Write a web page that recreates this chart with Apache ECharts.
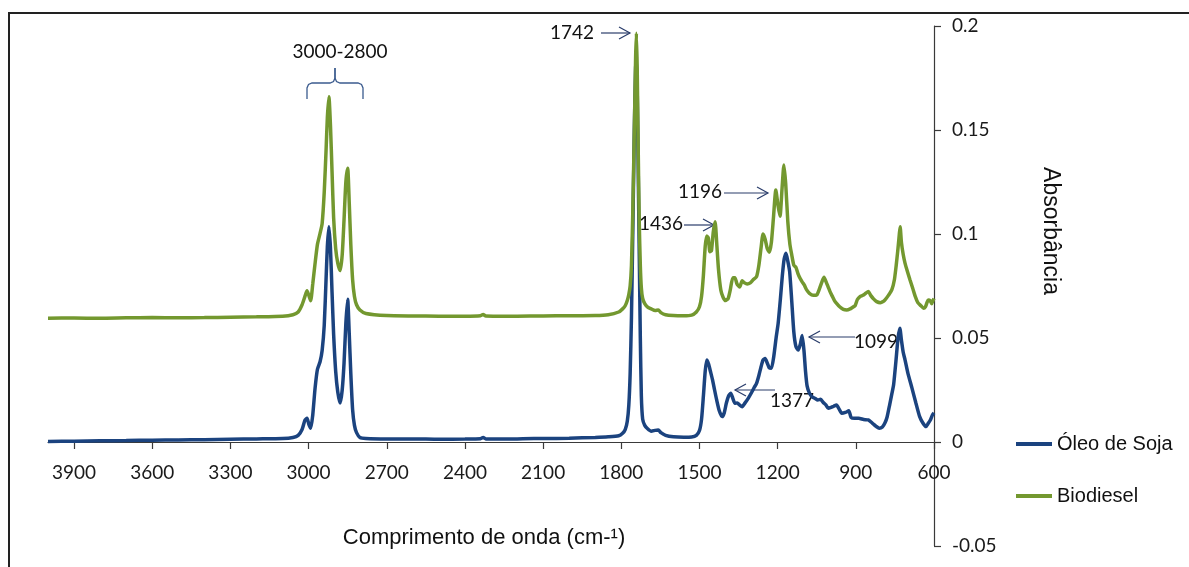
<!DOCTYPE html>
<html>
<head>
<meta charset="utf-8">
<script src="https://cdn.jsdelivr.net/npm/echarts@6/dist/echarts.min.js"></script>
<style>
  html, body { margin: 0; padding: 0; background: #ffffff; }
  #chart { width: 1189px; height: 567px; }
</style>
</head>
<body>
<div id="chart"></div>
<script>
// FTIR spectra: soybean oil vs. biodiesel (wavenumber in cm-1, absorbance)
const xTickValues = [3900, 3600, 3300, 3000, 2700, 2400, 2100, 1800, 1500, 1200, 900, 600];

const oilWavenumber = [
  4000, 3900, 3800, 3700, 3600, 3500, 3400, 3300, 3200, 3100, 3060, 3040, 3025, 3014, 3006, 2999, 2992, 2984, 2975, 2966,
  2956, 2948, 2940, 2933, 2928, 2922, 2916, 2910, 2904, 2896, 2888, 2879, 2871, 2864, 2857, 2850, 2844, 2838, 2831, 2824,
  2816, 2803, 2780, 2700, 2600, 2500, 2400, 2340, 2330, 2320, 2200, 2100, 2000, 1900, 1850, 1810, 1795, 1785, 1777, 1771,
  1766, 1761, 1756, 1750, 1745, 1742, 1739, 1735, 1731, 1727, 1723, 1718, 1710, 1700, 1685, 1670, 1658, 1648, 1630, 1600,
  1560, 1530, 1512, 1500, 1492, 1485, 1478, 1472, 1465, 1458, 1450, 1442, 1434, 1424, 1413, 1405, 1397, 1388, 1380, 1372,
  1364, 1355, 1346, 1336, 1325, 1313, 1300, 1290, 1281, 1272, 1264, 1256, 1248, 1240, 1232, 1224, 1215, 1206, 1198, 1190,
  1182, 1175, 1168, 1161, 1154, 1146, 1138, 1130, 1121, 1113, 1106, 1099, 1093, 1087, 1078, 1068, 1057, 1046, 1035, 1025,
  1015, 1006, 995, 985, 974, 964, 954, 940, 927, 918, 905, 889, 870, 852, 836, 822, 810, 798, 788, 780,
  770, 762, 755, 746, 738, 731, 725, 718, 711, 700, 686, 670, 655, 642, 631, 622, 614, 606, 600
];
const oilAbsorbance = [
  0.0003, 0.0004, 0.0006, 0.0007, 0.0009, 0.0010, 0.0011, 0.0013, 0.0015, 0.0017, 0.0022, 0.0032, 0.0060, 0.0105, 0.0114, 0.0085, 0.0066, 0.0130, 0.0260, 0.0350,
  0.0386, 0.0440, 0.0560, 0.0780, 0.0940, 0.1035, 0.0930, 0.0720, 0.0520, 0.0340, 0.0240, 0.0187, 0.0250, 0.0378, 0.0570, 0.0686, 0.0520, 0.0330, 0.0154, 0.0080,
  0.0045, 0.0022, 0.0017, 0.0015, 0.0015, 0.0013, 0.0014, 0.0016, 0.0022, 0.0015, 0.0015, 0.0017, 0.0018, 0.0022, 0.0025, 0.0030, 0.0042, 0.0060, 0.0100, 0.0180,
  0.0330, 0.0600, 0.1000, 0.1500, 0.1800, 0.1850, 0.1700, 0.1300, 0.0900, 0.0500, 0.0220, 0.0110, 0.0080, 0.0065, 0.0052, 0.0056, 0.0058, 0.0045, 0.0032, 0.0025,
  0.0023, 0.0024, 0.0032, 0.0055, 0.0110, 0.0220, 0.0340, 0.0394, 0.0375, 0.0340, 0.0300, 0.0250, 0.0202, 0.0150, 0.0122, 0.0140, 0.0186, 0.0222, 0.0234, 0.0210,
  0.0186, 0.0188, 0.0178, 0.0170, 0.0188, 0.0210, 0.0238, 0.0262, 0.0282, 0.0320, 0.0360, 0.0394, 0.0402, 0.0380, 0.0356, 0.0354, 0.0410, 0.0500, 0.0571, 0.0680,
  0.0800, 0.0880, 0.0907, 0.0870, 0.0820, 0.0680, 0.0530, 0.0460, 0.0442, 0.0470, 0.0512, 0.0440, 0.0340, 0.0270, 0.0235, 0.0218, 0.0210, 0.0202, 0.0205, 0.0190,
  0.0178, 0.0162, 0.0166, 0.0172, 0.0178, 0.0158, 0.0138, 0.0142, 0.0150, 0.0118, 0.0114, 0.0114, 0.0108, 0.0106, 0.0090, 0.0075, 0.0066, 0.0072, 0.0092, 0.0120,
  0.0180, 0.0230, 0.0275, 0.0390, 0.0500, 0.0547, 0.0490, 0.0430, 0.0394, 0.0330, 0.0266, 0.0190, 0.0122, 0.0090, 0.0074, 0.0090, 0.0106, 0.0130, 0.0140
];

const bioWavenumber = [
  4000, 3900, 3800, 3700, 3600, 3500, 3400, 3300, 3200, 3100, 3060, 3040, 3025, 3014, 3006, 2999, 2992, 2984, 2975, 2966,
  2956, 2948, 2940, 2933, 2928, 2922, 2916, 2910, 2904, 2896, 2888, 2879, 2871, 2864, 2857, 2850, 2844, 2838, 2831, 2824,
  2816, 2803, 2780, 2700, 2600, 2500, 2400, 2340, 2330, 2320, 2200, 2100, 2000, 1900, 1850, 1810, 1795, 1785, 1777, 1771,
  1766, 1761, 1756, 1750, 1745, 1742, 1739, 1735, 1731, 1727, 1723, 1718, 1710, 1700, 1685, 1670, 1658, 1648, 1630, 1600,
  1560, 1530, 1512, 1500, 1492, 1485, 1478, 1472, 1466, 1460, 1454, 1447, 1440, 1434, 1427, 1418, 1409, 1400, 1390, 1382,
  1372, 1364, 1356, 1346, 1336, 1327, 1317, 1305, 1294, 1281, 1272, 1264, 1256, 1248, 1240, 1232, 1224, 1216, 1207, 1199,
  1191, 1183, 1176, 1169, 1161, 1153, 1146, 1138, 1130, 1122, 1114, 1106, 1098, 1088, 1078, 1064, 1050, 1040, 1030, 1022,
  1014, 1006, 999, 990, 982, 974, 962, 948, 935, 922, 912, 903, 894, 884, 873, 862, 852, 843, 832, 820,
  806, 795, 788, 775, 762, 752, 745, 739, 733, 730, 725, 718, 711, 702, 692, 682, 672, 662, 650, 640,
  633, 627, 622, 615, 609, 604, 600
];
const bioAbsorbance = [
  0.0595, 0.0596, 0.0595, 0.0597, 0.0598, 0.0597, 0.0598, 0.0600, 0.0602, 0.0605, 0.0612, 0.0625, 0.0660, 0.0700, 0.0727, 0.0705, 0.0679, 0.0760, 0.0860, 0.0950,
  0.1003, 0.1050, 0.1200, 0.1400, 0.1560, 0.1660, 0.1520, 0.1300, 0.1080, 0.0930, 0.0860, 0.0824, 0.0900, 0.1067, 0.1250, 0.1316, 0.1150, 0.0950, 0.0779, 0.0700,
  0.0660, 0.0635, 0.0618, 0.0608, 0.0606, 0.0605, 0.0605, 0.0607, 0.0613, 0.0606, 0.0605, 0.0606, 0.0607, 0.0608, 0.0612, 0.0625, 0.0640, 0.0655, 0.0680, 0.0710,
  0.0750, 0.0850, 0.1100, 0.1500, 0.1850, 0.1965, 0.1800, 0.1400, 0.1050, 0.0850, 0.0740, 0.0690, 0.0665, 0.0650, 0.0640, 0.0632, 0.0635, 0.0622, 0.0612, 0.0608,
  0.0607, 0.0610, 0.0625, 0.0650, 0.0700, 0.0800, 0.0940, 0.0990, 0.0980, 0.0915, 0.0920, 0.1010, 0.1059, 0.0960, 0.0830, 0.0730, 0.0695, 0.0680, 0.0690, 0.0730,
  0.0790, 0.0790, 0.0760, 0.0745, 0.0775, 0.0765, 0.0760, 0.0765, 0.0780, 0.0795, 0.0850, 0.0930, 0.1000, 0.0975, 0.0930, 0.0912, 0.0960, 0.1080, 0.1212, 0.1140,
  0.1085, 0.1220, 0.1332, 0.1240, 0.1060, 0.0950, 0.0900, 0.0850, 0.0840, 0.0810, 0.0787, 0.0770, 0.0755, 0.0730, 0.0715, 0.0705, 0.0707, 0.0735, 0.0770, 0.0792,
  0.0770, 0.0745, 0.0723, 0.0700, 0.0680, 0.0667, 0.0650, 0.0638, 0.0635, 0.0640, 0.0648, 0.0655, 0.0685, 0.0699, 0.0705, 0.0715, 0.0723, 0.0705, 0.0688, 0.0675,
  0.0670, 0.0675, 0.0683, 0.0705, 0.0731, 0.0780, 0.0850, 0.0920, 0.1000, 0.1035, 0.0960, 0.0900, 0.0859, 0.0820, 0.0779, 0.0740, 0.0700, 0.0670, 0.0655, 0.0643,
  0.0650, 0.0670, 0.0683, 0.0680, 0.0665, 0.0680, 0.0690
];

const seriesNames = ['Óleo de Soja', 'Biodiesel'];
const seriesColors = ['#1b437f', '#73982f'];

const pairs = (xs, ys) => xs.map((x, i) => [x, ys[i]]);

const Y_MIN = -0.05, Y_MAX = 0.2;
const GRID = { left: 48, right: 255, top: 26, bottom: 21 };
const CHART_H = 567;
// the wavenumber axis crosses the absorbance axis at zero: shift it up from the grid bottom
const plotH = CHART_H - GRID.top - GRID.bottom;
const zeroOffset = -plotH * (0 - Y_MIN) / (Y_MAX - Y_MIN);

const TICK_FONT = 'Lato, "Open Sans", sans-serif';
const TITLE_FONT = '"Liberation Sans", Arial, sans-serif';
const AXIS_COLOR = '#3a3a3a';
const ARROW_COLOR = '#2a3d6b';

// peak annotation: horizontal arrow with an open head at the tip
function arrow(x1, x2, y) {
  const dir = x2 > x1 ? 1 : -1;
  return [
    { type: 'line', silent: true, shape: { x1: x1, y1: y, x2: x2, y2: y },
      style: { stroke: ARROW_COLOR, lineWidth: 1.2 } },
    { type: 'polyline', silent: true,
      shape: { points: [[x2 - dir * 11, y - 6], [x2, y], [x2 - dir * 11, y + 6]] },
      style: { stroke: ARROW_COLOR, lineWidth: 1.2, fill: null } }
  ];
}
function note(text, x, y, align) {
  return { type: 'text', silent: true, x: x, y: y,
    style: { text: text, fill: '#111', font: '19px ' + TICK_FONT,
      align: align || 'left', verticalAlign: 'middle' } };
}
// curly brace spanning the C-H stretch band
function brace(xl, xr, yb, yt, ytip) {
  const xm = (xl + xr) / 2, r = 5;
  const half = (x0, s) => [
    [x0, yb], [x0, yt + r], [x0 + s * 1.5, yt + 1.5], [x0 + s * r, yt],
    [xm - s * r, yt], [xm - s * 1.5, yt - 1.5], [xm, yt - r], [xm, ytip]
  ];
  return [
    { type: 'polyline', silent: true, shape: { points: half(xl, 1) },
      style: { stroke: '#3b5b8e', lineWidth: 1.3, fill: null } },
    { type: 'polyline', silent: true, shape: { points: half(xr, -1) },
      style: { stroke: '#3b5b8e', lineWidth: 1.3, fill: null } }
  ];
}

const annotations = [].concat(
  [note('3000-2800', 340, 52, 'center')],
  brace(307, 363, 99, 83, 68),
  [note('1742', 594, 33, 'right')], arrow(601, 630, 33),
  [note('1196', 722, 192, 'right')], arrow(724, 768, 193),
  [note('1436', 683, 224, 'right')], arrow(684, 714, 225),
  arrow(775, 735, 390), [note('1377', 770, 401, 'left')],
  arrow(855, 809, 337), [note('1099', 854, 342, 'left')],
  [{ type: 'text', silent: true, x: 484, y: 538,
     style: { text: 'Comprimento de onda (cm-¹)', fill: '#111', font: '22px ' + TITLE_FONT,
       align: 'center', verticalAlign: 'middle' } }],
  [{ type: 'text', silent: true, x: 1050, y: 231, rotation: -Math.PI / 2,
     style: { text: 'Absorbância', fill: '#111', font: '23px ' + TITLE_FONT,
       align: 'center', verticalAlign: 'middle' } }],
  [{ type: 'rect', silent: true, shape: { x: 9, y: 13, width: 1400, height: 800 },
     style: { stroke: '#222', lineWidth: 2, fill: null } }]
);

const chart = echarts.init(document.getElementById('chart'), null, { renderer: 'canvas' });
chart.setOption({
  animation: false,
  backgroundColor: '#ffffff',
  color: seriesColors,
  grid: Object.assign({ containLabel: false, outerBoundsMode: 'none' }, GRID),
  legend: {
    orient: 'vertical', left: 1016, top: 434, padding: 0,
    itemWidth: 36, itemHeight: 4, itemGap: 32, icon: 'rect',
    data: seriesNames,
    textStyle: { fontFamily: TITLE_FONT, fontSize: 20, color: '#111' }
  },
  xAxis: {
    type: 'value', min: 600, max: 4000, inverse: true,
    position: 'bottom', offset: zeroOffset,
    axisLine: { show: true, onZero: false, lineStyle: { color: AXIS_COLOR, width: 1.2 } },
    axisTick: { show: true, length: 7, customValues: xTickValues, lineStyle: { color: AXIS_COLOR, width: 1.2 } },
    axisLabel: { customValues: xTickValues, margin: 21, color: '#1a1a1a', fontFamily: TICK_FONT, fontSize: 19,
      formatter: v => String(v) },
    splitLine: { show: false }
  },
  yAxis: {
    type: 'value', position: 'right', min: Y_MIN, max: Y_MAX, interval: 0.05,
    axisLine: { show: true, onZero: false, lineStyle: { color: AXIS_COLOR, width: 1.2 } },
    axisTick: { show: true, length: 7, lineStyle: { color: AXIS_COLOR, width: 1.2 } },
    axisLabel: { margin: 18, color: '#1a1a1a', fontFamily: TICK_FONT, fontSize: 19,
      formatter: v => String(+v.toFixed(2)) },
    splitLine: { show: false }
  },
  series: [
    { name: seriesNames[0], type: 'line', data: pairs(oilWavenumber, oilAbsorbance),
      showSymbol: false, smooth: 0.2, lineStyle: { width: 3.5, color: seriesColors[0] } },
    { name: seriesNames[1], type: 'line', data: pairs(bioWavenumber, bioAbsorbance),
      showSymbol: false, smooth: 0.2, lineStyle: { width: 3.5, color: seriesColors[1] } }
  ],
  graphic: annotations
});
</script>
</body>
</html>
